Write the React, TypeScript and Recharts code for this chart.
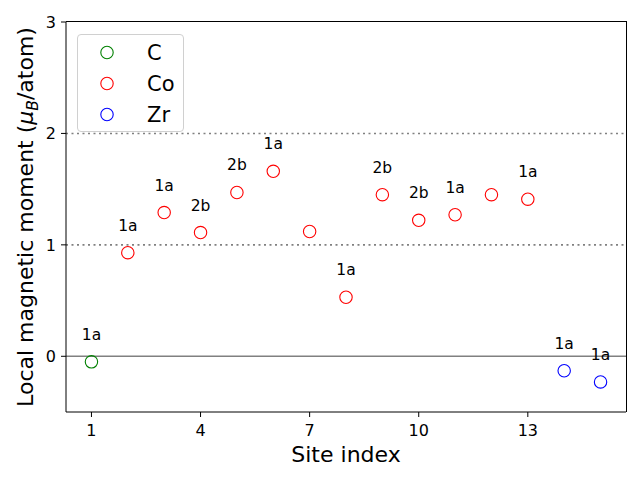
import { ScatterChart, Scatter, XAxis, YAxis, ReferenceLine } from "recharts"

const cSites = [1]
const cMoments = [-0.05]
const cLabels = ["1a"]

const coSites = [2, 3, 4, 5, 6, 7, 8, 9, 10, 11, 12, 13]
const coMoments = [0.93, 1.29, 1.11, 1.47, 1.66, 1.12, 0.53, 1.45, 1.22, 1.27, 1.45, 1.41]
const coLabels = ["1a", "1a", "2b", "2b", "1a", "", "1a", "2b", "2b", "1a", "", "1a"]

const zrSites = [14, 15]
const zrMoments = [-0.13, -0.23]
const zrLabels = ["1a", "1a"]

const xTicks = [1, 4, 7, 10, 13]
const yTicks = [0, 1, 2, 3]

const FONT = "DejaVu Sans, sans-serif"

// plot box
const W = 640
const H = 480
const M = { top: 22, right: 14, left: 66, bottom: 68 }

const toRows = (sites: number[], moments: number[], labels: string[]) =>
  sites.map((x, i) => ({ x, y: moments[i], label: labels[i] }))

const series = [
  { name: "C", color: "green", data: toRows(cSites, cMoments, cLabels) },
  { name: "Co", color: "red", data: toRows(coSites, coMoments, coLabels) },
  { name: "Zr", color: "blue", data: toRows(zrSites, zrMoments, zrLabels) },
]

function makeShape(color: string) {
  return (props: any) => {
    const { cx, cy, payload } = props
    return (
      <g>
        <circle cx={cx} cy={cy} r={6.2} fill="none" stroke={color} strokeWidth={1.1} />
        {payload.label ? (
          <text x={cx} y={cy - 22} textAnchor="middle" fontSize={15.5} fontFamily={FONT} fill="#000">
            {payload.label}
          </text>
        ) : null}
      </g>
    )
  }
}

const XTick = (props: any) => (
  <text x={props.x} y={props.y} dy="0.95em" textAnchor="middle" fontSize={16} fontFamily={FONT} fill="#000">
    {props.payload.value}
  </text>
)

const YTick = (props: any) => (
  <text x={props.x} y={props.y} dy="0.36em" textAnchor="end" fontSize={16} fontFamily={FONT} fill="#000">
    {props.payload.value}
  </text>
)

function Legend() {
  return (
    <div
      style={{
        position: "absolute",
        left: 77,
        top: 34,
        width: 107,
        height: 98,
        border: "1px solid #d0d0d0",
        borderRadius: 4,
        background: "rgba(255,255,255,0.8)",
        boxSizing: "border-box",
      }}
    >
      <svg width={107} height={98} style={{ position: "absolute", left: -1, top: -1 }}>
        {series.map((s, i) => (
          <g key={s.name}>
            <circle cx={30} cy={18.5 + i * 31} r={6.2} fill="none" stroke={s.color} strokeWidth={1.1} />
            <text x={70} y={18.5 + i * 31} dy="0.36em" fontSize={21} fontFamily={FONT} fill="#000">
              {s.name}
            </text>
          </g>
        ))}
      </svg>
    </div>
  )
}

export default function App() {
  return (
    <div style={{ position: "absolute", left: 0, top: 0, width: W, height: H, background: "#fff" }}>
      <ScatterChart width={W} height={H} margin={{ top: M.top, right: M.right, bottom: 0, left: 0 }}>
        <XAxis
          type="number"
          dataKey="x"
          domain={[0.3, 15.7]}
          ticks={xTicks}
          allowDataOverflow
          height={M.bottom}
          tickSize={5}
          tickMargin={4}
          stroke="#000"
          tick={<XTick />}
        />
        <YAxis
          type="number"
          dataKey="y"
          domain={[-0.5, 3]}
          ticks={yTicks}
          allowDataOverflow
          width={M.left}
          tickSize={5}
          tickMargin={5}
          stroke="#000"
          tick={<YTick />}
        />
        <ReferenceLine y={0} stroke="#808080" strokeWidth={1.6} />
        <ReferenceLine y={1} stroke="#808080" strokeWidth={1.6} strokeDasharray="2 3.5" />
        <ReferenceLine y={2} stroke="#808080" strokeWidth={1.6} strokeDasharray="2 3.5" />
        {series.map((s) => (
          <Scatter
            key={s.name}
            name={s.name}
            data={s.data}
            shape={makeShape(s.color)}
            isAnimationActive={false}
          />
        ))}
      </ScatterChart>
      <div
        style={{
          position: "absolute",
          left: M.left,
          top: M.top - 1,
          width: W - M.left - M.right + 1,
          height: H - M.top - M.bottom + 1,
          borderTop: "1.5px solid #000",
          borderRight: "1.5px solid #000",
          boxSizing: "border-box",
          pointerEvents: "none",
        }}
      />
      <svg width={W} height={H} style={{ position: "absolute", left: 0, top: 0, pointerEvents: "none" }}>
        <text x={346} y={462} textAnchor="middle" fontSize={22} fontFamily={FONT} fill="#000">
          Site index
        </text>
        <text
          transform="translate(33,217) rotate(-90)"
          textAnchor="middle"
          fontSize={22}
          fontFamily={FONT}
          fill="#000"
        >
          Local magnetic moment (
          <tspan fontStyle="italic">μ</tspan>
          <tspan fontStyle="italic" fontSize={15.5} dy={5}>B</tspan>
          <tspan dy={-5}>/atom)</tspan>
        </text>
      </svg>
      <Legend />
    </div>
  )
}
